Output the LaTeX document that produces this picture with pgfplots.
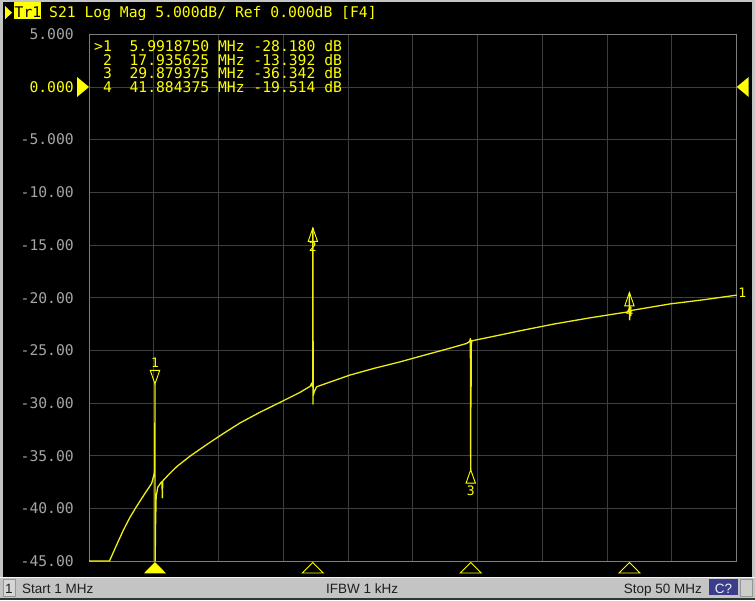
\documentclass[border=0pt]{standalone}
\usepackage{fontspec}
\usepackage{pgfplots}
\pgfplotsset{compat=1.18}
\setmainfont{Liberation Sans}
\newfontfamily\mono{DejaVu Sans Mono}
\definecolor{trc}{RGB}{238,238,20}
\definecolor{yel}{RGB}{255,255,0}
\definecolor{gridc}{RGB}{62,62,62}
\definecolor{bordc}{RGB}{125,125,125}
\definecolor{tickc}{RGB}{165,165,165}
\definecolor{barc}{RGB}{196,196,196}
\definecolor{cbox}{RGB}{60,60,140}
\definecolor{bartxt}{RGB}{30,30,30}
\definecolor{boxa}{RGB}{214,214,214}
\definecolor{boxb}{RGB}{150,150,150}
\definecolor{boxc}{RGB}{205,205,205}

\pgfdeclareplotmark{mkdown}{\pgfpathmoveto{\pgfpointorigin}\pgfpathlineto{\pgfpoint{-4.7pt}{13.4pt}}\pgfpathlineto{\pgfpoint{4.7pt}{13.4pt}}\pgfpathclose\pgfusepathqstroke}
\pgfdeclareplotmark{mkup}{\pgfpathmoveto{\pgfpointorigin}\pgfpathlineto{\pgfpoint{-4.7pt}{-13.4pt}}\pgfpathlineto{\pgfpoint{4.7pt}{-13.4pt}}\pgfpathclose\pgfusepathqstroke}
\pgfdeclareplotmark{btfill}{\pgfpathmoveto{\pgfpoint{0pt}{-1pt}}\pgfpathlineto{\pgfpoint{-11pt}{-12.3pt}}\pgfpathlineto{\pgfpoint{11pt}{-12.3pt}}\pgfpathclose\pgfusepathqfill}
\pgfdeclareplotmark{btopen}{\pgfpathmoveto{\pgfpoint{0pt}{-1.5pt}}\pgfpathlineto{\pgfpoint{-10.5pt}{-12pt}}\pgfpathlineto{\pgfpoint{10.5pt}{-12pt}}\pgfpathclose\pgfusepathqstroke}
\pgfdeclareplotmark{refL}{\pgfpathmoveto{\pgfpointorigin}\pgfpathlineto{\pgfpoint{-12pt}{10pt}}\pgfpathlineto{\pgfpoint{-12pt}{-10pt}}\pgfpathclose\pgfusepathqfill}
\pgfdeclareplotmark{refR}{\pgfpathmoveto{\pgfpointorigin}\pgfpathlineto{\pgfpoint{12pt}{10pt}}\pgfpathlineto{\pgfpoint{12pt}{-10pt}}\pgfpathclose\pgfusepathqfill}

\newcommand{\monof}{\mono\fontsize{14.7}{14.7}\selectfont}
\newcommand{\lblf}{\mono\fontsize{13}{13}\selectfont}

\begin{document}
\begin{tikzpicture}[x=1pt,y=1pt]
\path[use as bounding box] (0,0) rectangle (755,600);
% window frame and background
\fill[barc] (0,0) rectangle (755,600);
\fill[black] (3,23) rectangle (752,598);
\fill[black!80] (0,0) rectangle (755,2.5);
\draw[white!92!gray, line width=0.8pt] (0,22.6) -- (755,22.6);
% status bar
\fill[boxa] (3,4) rectangle (15,21);
\draw[boxb, line width=0.6pt] (3,4) rectangle (15,21);
\node[anchor=base, inner sep=0pt, text=bartxt, font=\fontsize{13.5}{13.5}\selectfont] at (9,6.5) {1};
\node[anchor=base west, inner sep=0pt, text=bartxt, font=\fontsize{13.5}{13.5}\selectfont] at (22,6.5) {Start 1 MHz};
\node[anchor=base west, inner sep=0pt, text=bartxt, font=\fontsize{13.5}{13.5}\selectfont] at (326,6.5) {IFBW 1 kHz};
\node[anchor=base east, inner sep=0pt, text=bartxt, font=\fontsize{13.5}{13.5}\selectfont] at (702,6.5) {Stop 50 MHz};
\fill[cbox] (709,5) rectangle (738,21);
\node[anchor=base, inner sep=0pt, text=white!88!gray, font=\fontsize{13.5}{13.5}\selectfont] at (723.5,6.5) {C?};
\fill[boxc] (740,4) rectangle (752,21);
\draw[boxb, line width=0.6pt] (740,4) rectangle (752,21);
% title bar
\fill[yel] (5,594) -- (12,587.3) -- (5,580.7) -- cycle;
\fill[yel] (14,581) rectangle (41,598.3);
\node[anchor=base west, inner sep=0pt, text=black, font=\monof] at (14.5,582.5) {Tr1};
\node[anchor=base west, inner sep=0pt, text=yel, font=\monof] at (49,582.5) {S21 Log Mag 5.000dB/ Ref 0.000dB [F4]};

\begin{axis}[at={(89pt,39pt)}, anchor=south west, scale only axis,
  width=647.7pt, height=526.7pt,
  xmin=1, xmax=50, ymin=-45, ymax=5, clip=false,
  axis line style={bordc, line width=0.9pt},
  grid=major, major grid style={gridc, line width=0.9pt},
  tick style={draw=none},
  xtick={1,5.9,10.8,15.7,20.6,25.5,30.4,35.3,40.2,45.1,50},
  xticklabels={},
  ytick={-45,-40,-35,-30,-25,-20,-15,-10,-5,0,5},
  yticklabels={-45.00,-40.00,-35.00,-30.00,-25.00,-20.00,-15.00,-10.00,-5.000,{\textcolor{yel}{0.000}},5.000},
  yticklabel style={font=\monof, text=tickc, anchor=east, inner sep=0pt, xshift=-15pt},
]
\addplot[trc, line width=1.3pt, line join=round] coordinates {
(1,-45) (2.55,-45) (3.08,-43.5) (3.59,-42.1) (4.1,-40.85) (4.61,-39.8)
(5.2,-38.65) (5.74,-37.63) (5.94,-36.7) (5.98,-36.3) (5.99,-28.18) (5.9919,-28.18)
(5.995,-45) (6.01,-45) (6.03,-42.0) (6.08,-38.9) (6.2,-38.0) (6.42,-37.6)
(6.52,-37.45) (6.55,-39.0) (6.58,-37.4) (7.1,-36.7) (7.63,-36.05) (8.64,-35.05) (9.9,-33.95)
(11.16,-32.9) (12.42,-31.9) (13.9,-30.9) (15.44,-29.95) (16.95,-29.0)
(17.75,-28.4) (17.85,-28.1) (17.92,-28.5) (17.935,-13.39) (17.936,-13.39)
(17.94,-30.1) (17.95,-21.2) (17.96,-29.3) (18.05,-28.9) (18.22,-28.46)
(20.74,-27.35) (22.6,-26.7) (24.52,-26.1) (26.4,-25.45) (28.3,-24.8)
(29.56,-24.35) (29.8,-24.15) (29.85,-23.9) (29.875,-36.34) (29.88,-36.34)
(29.885,-24.0) (29.9,-30.4) (29.92,-24.5) (29.96,-24.1) (32.08,-23.55)
(33.59,-23.15) (36.2,-22.5) (38.88,-21.92) (41.0,-21.5) (41.8,-21.35)
(41.87,-21.1) (41.884,-19.51) (41.89,-19.51) (41.9,-22.1) (41.95,-21.3)
(42.1,-21.2) (44.93,-20.6) (47.5,-20.2) (50,-19.76)
};
\addplot[yel, only marks, mark=mkdown, mark options={draw=yel, line width=0.9pt}] coordinates {(5.991875,-28.180)};
\addplot[yel, only marks, mark=mkup, mark options={draw=yel, line width=0.9pt}] coordinates {(17.935625,-13.392) (29.879375,-36.342) (41.884375,-19.514)};
\addplot[yel, only marks, mark=btfill, mark options={fill=yel}] coordinates {(5.991875,-45)};
\addplot[yel, only marks, mark=btopen, mark options={draw=yel, line width=0.9pt}] coordinates {(17.935625,-45) (29.879375,-45) (41.884375,-45)};
\addplot[yel, only marks, mark=refL, mark options={fill=yel}] coordinates {(1,0)};
\addplot[yel, only marks, mark=refR, mark options={fill=yel}] coordinates {(50,0)};
\node[font=\lblf, text=yel, inner sep=0pt, yshift=21.5pt] at (axis cs:5.991875,-28.180) {1};
\node[font=\lblf, text=yel, inner sep=0pt, yshift=-19pt] at (axis cs:17.935625,-13.392) {2};
\node[font=\lblf, text=yel, inner sep=0pt, yshift=-21pt] at (axis cs:29.879375,-36.342) {3};
\node[font=\lblf, text=yel, inner sep=0pt, yshift=-19pt] at (axis cs:41.884375,-19.514) {4};
\node[font=\lblf, text=yel, inner sep=0pt, anchor=west, xshift=1.5pt, yshift=2pt] at (axis cs:50,-19.76) {1};
\end{axis}
% marker table
\node[anchor=base west, inner sep=0pt, text=yel, font=\monof] at (94,548.3) {>1~~5.9918750~MHz~-28.180~dB};
\node[anchor=base west, inner sep=0pt, text=yel, font=\monof] at (94,534.7) {~2~~17.935625~MHz~-13.392~dB};
\node[anchor=base west, inner sep=0pt, text=yel, font=\monof] at (94,521) {~3~~29.879375~MHz~-36.342~dB};
\node[anchor=base west, inner sep=0pt, text=yel, font=\monof] at (94,507.3) {~4~~41.884375~MHz~-19.514~dB};
\end{tikzpicture}
\end{document}
